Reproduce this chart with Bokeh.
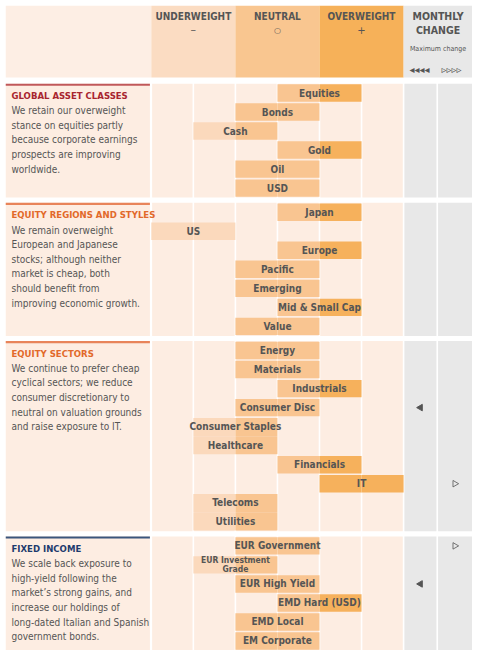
import math
from bokeh.plotting import figure
from bokeh.models import Range1d, FactorRange, ColumnDataSource
from bokeh.layouts import column
from bokeh.embed import file_html
from bokeh.resources import INLINE
from bokeh.core.properties import value

# ---------------- data ----------------
sections = ["GLOBAL ASSET CLASSES", "EQUITY REGIONS AND STYLES", "EQUITY SECTORS", "FIXED INCOME"]

global_items = ["Equities", "Bonds", "Cash", "Gold", "Oil", "USD"]
global_stance = [1, 0, -1, 1, 0, 0]
global_change = [0, 0, 0, 0, 0, 0]

region_items = ["Japan", "US", "Europe", "Pacific", "Emerging", "Mid & Small Cap", "Value"]
region_stance = [1, -2, 1, 0, 0, 1, 0]
region_change = [0, 0, 0, 0, 0, 0, 0]

sector_items = ["Energy", "Materials", "Industrials", "Consumer Disc", "Consumer Staples",
                "Healthcare", "Financials", "IT", "Telecoms", "Utilities"]
sector_stance = [0, 0, 1, 0, -1, -1, 1, 2, -1, -1]
sector_change = [0, 0, 0, -1, 0, 0, 0, 1, 0, 0]

fixed_items = ["EUR Government", "EUR Investment\nGrade", "EUR High Yield", "EMD Hard (USD)",
               "EMD Local", "EM Corporate"]
fixed_stance = [0, -1, 0, 1, 0, 0]
fixed_change = [1, 0, -1, 0, 0, 0]

# rows whose bar is drawn joined to the next row's bar (as in the original table)
joined_to_next = {"Consumer Staples", "Telecoms"}

section_text = [
    ["We retain our overweight", "stance on equities partly", "because corporate earnings",
     "prospects are improving", "worldwide."],
    ["We remain overweight", "European and Japanese", "stocks; although neither",
     "market is cheap, both", "should benefit from", "improving economic growth."],
    ["We continue to prefer cheap", "cyclical sectors; we reduce", "consumer discretionary to",
     "neutral on valuation grounds", "and raise exposure to IT."],
    ["We scale back exposure to", "high-yield following the", "market\u2019s strong gains, and",
     "increase our holdings of", "long-dated Italian and Spanish", "government bonds."],
]
title_colors = ["#a8252f", "#e2692a", "#e2692a", "#1d3b6e"]
rule_colors = ["#c0585a", "#e8845a", "#e8845a", "#3a557c"]

stance_labels = ["UNDERWEIGHT", "NEUTRAL", "OVERWEIGHT"]
stance_symbols = ["\u2013", "\u25cb", "+"]

all_items = [global_items, region_items, sector_items, fixed_items]
all_stance = [global_stance, region_stance, sector_stance, fixed_stance]
all_change = [global_change, region_change, sector_change, fixed_change]

# ---------------- styling ----------------
FONT = value("DejaVu Sans Condensed, Liberation Sans Narrow, Roboto, sans-serif")
SYM_FONT = value("DejaVu Sans")
GREY_TXT = "#555555"
CELL = "#fdede2"
ZONE_COL = ["#fbd9bc", "#f9c591", "#f6b15c"]          # underweight / neutral / overweight
HEAD_COL = ["#fbdcc2", "#f9c690", "#f6b159"]
GREY_COL = "#e8e8e8"

PAD = 5
W = 467
HEAD_H = 78
BODY_H = 567
U = 42.1                        # px per stance unit
X0 = -3 - (152 - 6) / U
X1 = 3 + (473 - 404) / U
GP = 0.27
N_ROWS = sum(len(i) for i in all_items)
ROW_PX = BODY_H / (N_ROWS + GP * (len(sections) - 1))
MC_SPLIT = 3 + (437.7 - 404) / U
gx = 0.8 / U                    # half white gap between columns
gy = 0.8 / ROW_PX               # half white gap between bars

xr = Range1d(X0, X1)

# ---------------- header ----------------
head = figure(width=W + PAD, height=HEAD_H + PAD, x_range=xr, y_range=Range1d(HEAD_H, 0),
              output_backend="svg", toolbar_location=None,
              x_axis_location=None, y_axis_location=None, min_border=0,
              min_border_left=PAD, min_border_top=PAD,
              outline_line_color=None, background_fill_color="white", border_fill_color="white")
head.grid.visible = False
head.quad(left=[X0], right=[-3], top=[0], bottom=[72], fill_color="#fdeee4", line_color=None)
head.quad(left=[-3, -1, 1], right=[-1, 1, 3], top=[0] * 3, bottom=[72] * 3,
          fill_color=HEAD_COL, line_color=None)
head.quad(left=[3], right=[X1], top=[0], bottom=[72], fill_color=GREY_COL, line_color=None)
head.text(x=[-2, 0, 2], y=[10.7] * 3, text=stance_labels, text_font=FONT, text_font_style="bold",
          text_font_size="10px", text_color=GREY_TXT, text_align="center", text_baseline="middle")
head.text(x=[-2, 0, 2], y=[23.5, 24.5, 24], text=stance_symbols, text_font=SYM_FONT,
          text_font_size=["11px", "8px", "10px"], text_color=GREY_TXT, text_align="center",
          text_baseline="middle")
mc_x = (3 + X1) / 2
head.text(x=[mc_x, mc_x], y=[10.3, 24.7], text=["MONTHLY", "CHANGE"], text_font=FONT,
          text_font_style="bold", text_font_size="10.5px", text_color=GREY_TXT,
          text_align="center", text_baseline="middle")
head.text(x=[mc_x], y=[43], text=["Maximum change"], text_font=FONT, text_font_size="7px",
          text_color=GREY_TXT, text_align="center", text_baseline="middle")
head.text(x=[3 + 16 / U, 3 + 48 / U], y=[63.5, 63.5], text=["\u25c2\u25c2\u25c2\u25c2", "\u25b9\u25b9\u25b9\u25b9"],
          text_font=SYM_FONT, text_font_size="10px", text_color=GREY_TXT,
          text_align="center", text_baseline="middle")

# ---------------- body ----------------
factors = []
for s, items in zip(sections, all_items):
    for it in items:
        factors.append((s, it))
yr = FactorRange(factors=factors[::-1], group_padding=GP, range_padding=0)

body = figure(width=W + PAD, height=BODY_H, x_range=xr, y_range=yr,
              output_backend="svg", toolbar_location=None,
              x_axis_location=None, y_axis_location=None, min_border=0, min_border_left=PAD,
              outline_line_color=None, background_fill_color="white", border_fill_color="white")
body.grid.visible = False

# section backgrounds
bg = dict(left=[], right=[], top=[], bottom=[], color=[])
for s, items in zip(sections, all_items):
    top = (s, items[0], 0.5)
    bot = (s, items[-1], -0.5)
    cols = [(X0, -3 - 1.4 / U, CELL)]
    cols += [(-3 + k + gx, -2 + k - gx, CELL) for k in range(6)]
    cols += [(3 + gx, MC_SPLIT - gx, GREY_COL), (MC_SPLIT + gx, X1, GREY_COL)]
    for l, r, c in cols:
        bg["left"].append(l); bg["right"].append(r)
        bg["top"].append(top); bg["bottom"].append(bot); bg["color"].append(c)
body.quad(left="left", right="right", top="top", bottom="bottom", fill_color="color",
          line_color=None, source=ColumnDataSource(bg))

# section rules on the text panels
rl = dict(top=[], bottom=[], color=[])
for s, items, c in zip(sections, all_items, rule_colors):
    rl["top"].append((s, items[0], 0.5))
    rl["bottom"].append((s, items[0], 0.5 - 2.2 / ROW_PX))
    rl["color"].append(c)
body.quad(left=X0, right=-3 - 1.4 / U, top="top", bottom="bottom", fill_color="color",
          line_color=None, source=ColumnDataSource(rl))

# bars: two halves, each coloured by its stance zone
bars = dict(top=[], bottom=[], left=[], right=[], color=[])
labs = dict(x=[], y=[], text=[], size=[])
marks = {-1: dict(x=[], y=[]), 1: dict(x=[], y=[])}
mc_pos = {-1: (3 + MC_SPLIT) / 2, 1: (MC_SPLIT + X1) / 2}
for s, items, st, ch in zip(sections, all_items, all_stance, all_change):
    prev = None
    for it, v, c in zip(items, st, ch):
        t = 0.5 if prev in joined_to_next else 0.5 - gy
        b = -0.5 if it in joined_to_next else -0.5 + gy
        for lo in (v - 1, v):
            zone = int((lo + 3) // 2)
            bars["top"].append((s, it, t)); bars["bottom"].append((s, it, b))
            bars["left"].append(lo); bars["right"].append(lo + 1)
            bars["color"].append(ZONE_COL[zone])
        labs["x"].append(v); labs["y"].append((s, it)); labs["text"].append(it)
        labs["size"].append("8.5px" if "\n" in it else "10px")
        if c != 0:
            marks[c]["x"].append(mc_pos[c]); marks[c]["y"].append((s, it))
        prev = it

body.quad(top="top", bottom="bottom", left="left", right="right", fill_color="color",
          line_color=None, source=ColumnDataSource(bars))
body.text(x="x", y="y", text="text", text_font_size="size", source=ColumnDataSource(labs),
          text_font=FONT, text_font_style="bold", text_color=GREY_TXT, text_align="center",
          text_baseline="middle", text_line_height=0.9)

body.scatter(x="x", y="y", source=ColumnDataSource(marks[-1]), marker="triangle", size=6.5,
             angle=math.pi / 2, fill_color=GREY_TXT, line_color=GREY_TXT)
body.scatter(x="x", y="y", source=ColumnDataSource(marks[1]), marker="triangle", size=6.5,
             angle=-math.pi / 2, fill_color=None, line_color=GREY_TXT, line_width=0.8)

# section titles and descriptions
tx = -3 - (152 - 12) / U
tt = dict(y=[], text=[], color=[])
dd = dict(y=[], text=[])
for s, items, lines, col in zip(sections, all_items, section_text, title_colors):
    tt["y"].append((s, items[0], 0.5 - 12 / ROW_PX)); tt["text"].append(s); tt["color"].append(col)
    for k, ln in enumerate(lines):
        dd["y"].append((s, items[0], 0.5 - (27.3 + 14.6 * k) / ROW_PX)); dd["text"].append(ln)
body.text(x=tx, y="y", text="text", text_color="color", source=ColumnDataSource(tt),
          text_font=FONT, text_font_style="bold", text_font_size="9.5px",
          text_align="left", text_baseline="middle")
body.text(x=tx, y="y", text="text", source=ColumnDataSource(dd),
          text_font=FONT, text_font_size="10px", text_color=GREY_TXT,
          text_align="left", text_baseline="middle")

layout = column(head, body, spacing=0)
open("out.html", "w").write(file_html(layout, INLINE))
